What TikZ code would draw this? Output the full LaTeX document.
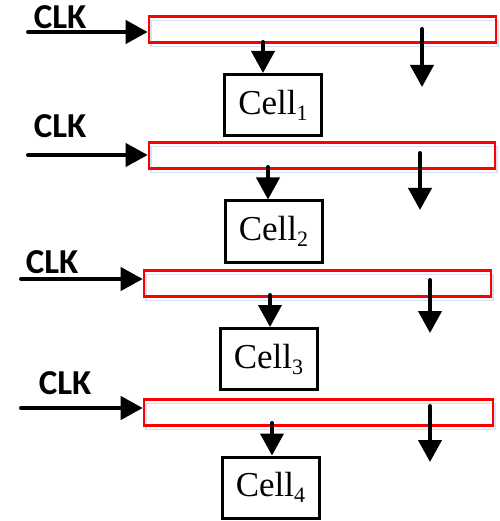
\documentclass[tikz,border=0pt]{standalone}
\usepackage{fontspec}
\setmainfont{Liberation Serif}
\newfontfamily\clkfont{Carlito}
\usetikzlibrary{arrows.meta}
\begin{document}
\begin{tikzpicture}[x=1pt,y=-1pt,
  reg/.style={draw=red, line width=2.6pt, inner sep=0pt, minimum height=26pt},
  shadow/.style={draw={rgb,255:red,214;green,226;blue,242}, line width=1.8pt, inner sep=0pt, minimum height=26pt},
  cell/.style={draw=black, line width=3pt, inner sep=0pt, minimum width=97pt, minimum height=61pt, font=\fontsize{35}{38}\selectfont},
  clklbl/.style={font=\clkfont\bfseries\fontsize{35}{36}\selectfont, inner sep=0pt},
  sig/.style={line width=4pt, line cap=round, -{Triangle[length=22pt,width=23pt]}}
]
\useasboundingbox (0,0) rectangle (499,521);
\newcommand{\cellname}[1]{Cell\raisebox{-6pt}{\fontsize{22}{22}\selectfont #1}}

% ---------- block 1
\node[shadow, minimum width=347pt] at (324.5,33.5) {};
\node[reg, minimum width=347pt] (r1) at (322.5,29.5) {};
\node[clklbl] (k1) at (60,17) {CLK};
\coordinate (a1) at (28,32);
\draw[sig] (a1) -- (a1 -| r1.west);
\node[cell] (c1) at (273,105) {\cellname{1}};
\coordinate (d1) at (263,42);
\draw[sig] (d1) -- (d1 |- c1.north);
\coordinate (e1) at (422,29);
\coordinate (f1) at (422,87);
\draw[sig] (e1) -- (f1);

% ---------- block 2
\node[shadow, minimum width=346pt] at (324,159.5) {};
\node[reg, minimum width=346pt] (r2) at (322,155.5) {};
\node[clklbl] (k2) at (60,126) {CLK};
\coordinate (a2) at (28,155);
\draw[sig] (a2) -- (a2 -| r2.west);
\node[cell] (c2) at (273.5,231.5) {\cellname{2}};
\coordinate (d2) at (268,167);
\draw[sig] (d2) -- (d2 |- c2.north);
\coordinate (e2) at (420,153);
\coordinate (f2) at (420,210);
\draw[sig] (e2) -- (f2);

% ---------- block 3
\node[shadow, minimum width=347pt] at (319.5,287.5) {};
\node[reg, minimum width=347pt] (r3) at (317.5,283.5) {};
\node[clklbl] (k3) at (52,262) {CLK};
\coordinate (a3) at (21,279);
\draw[sig] (a3) -- (a3 -| r3.west);
\node[cell] (c3) at (268.5,359) {\cellname{3}};
\coordinate (d3) at (270,295);
\draw[sig] (d3) -- (d3 |- c3.north);
\coordinate (e3) at (430,280);
\coordinate (f3) at (430,333);
\draw[sig] (e3) -- (f3);

% ---------- block 4
\node[shadow, minimum width=349pt] at (320.5,416.5) {};
\node[reg, minimum width=349pt] (r4) at (318.5,412.5) {};
\node[clklbl] (k4) at (65,383) {CLK};
\coordinate (a4) at (21,408);
\draw[sig] (a4) -- (a4 -| r4.west);
\node[cell] (c4) at (270.5,487.5) {\cellname{4}};
\coordinate (d4) at (272,423);
\draw[sig] (d4) -- (d4 |- c4.north);
\coordinate (e4) at (430,406);
\coordinate (f4) at (430,462);
\draw[sig] (e4) -- (f4);
\end{tikzpicture}
\end{document}
